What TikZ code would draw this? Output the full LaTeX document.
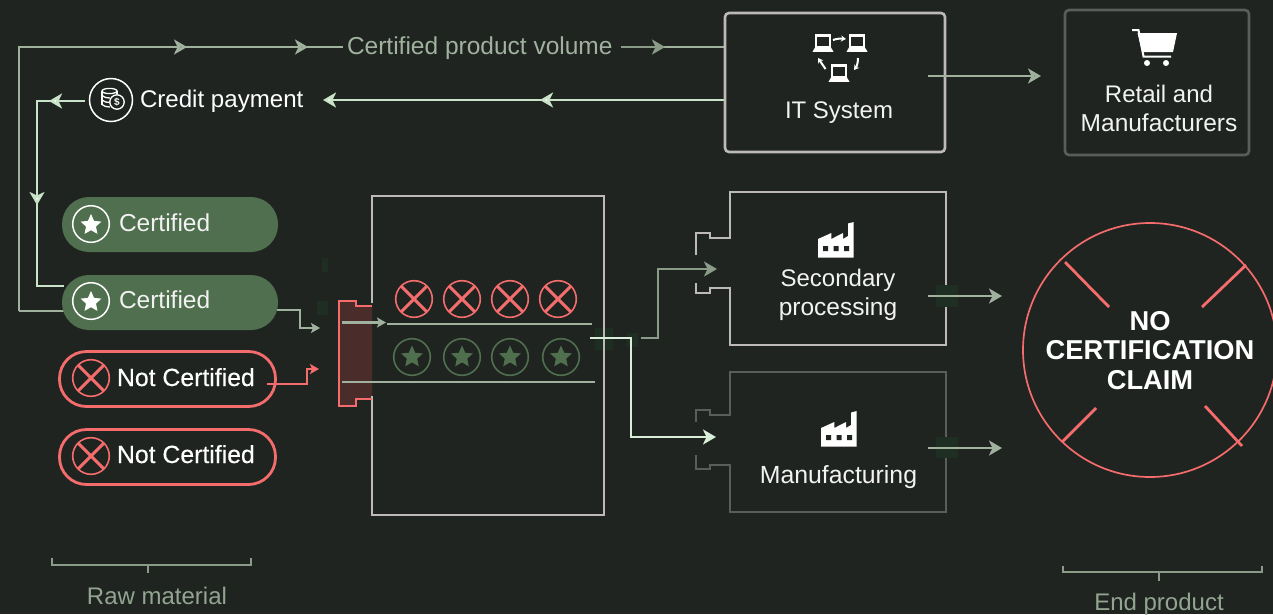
\documentclass[tikz,border=0pt]{standalone}
\usepackage{fontspec}
\setmainfont{Liberation Sans}
\newfontfamily\medfont[FakeBold=0.3]{Liberation Sans}
\usetikzlibrary{arrows.meta}
\definecolor{bgc}{HTML}{1F2421}
\definecolor{sage}{HTML}{A0B29E}
\definecolor{sagedark}{HTML}{8A9B88}
\definecolor{mint}{HTML}{C8E3C8}
\definecolor{mintlight}{HTML}{D8EED8}
\definecolor{pillgreen}{HTML}{4F6F4E}
\definecolor{redc}{HTML}{F56C6C}
\definecolor{gatefill}{HTML}{4A2C2A}
\definecolor{boxlight}{HTML}{BDB9B9}
\definecolor{boxdark}{HTML}{5A5E5B}
\definecolor{faint}{HTML}{1E2E22}
\definecolor{textsage}{HTML}{93A590}
\definecolor{txt}{HTML}{F2F2F2}
\tikzset{
  bigtip/.tip={Stealth[length=13pt,width=15pt,inset=3.5pt]},
  smalltip/.tip={Stealth[length=9pt,width=10pt,inset=2pt]},
  conn/.style={line width=2.8pt,line join=miter},
  cont/.style={conn,shorten <=-4pt},
  lbl/.style={anchor=base,inner sep=0pt,outer sep=0pt,font=\fontsize{24.5}{29}\selectfont,text=txt},
  lblw/.style={lbl,anchor=base west},
  lblm/.style={lbl,font=\fontsize{24}{29}\selectfont},
  pill/.style={rectangle,rounded corners=27pt,minimum width=216pt,minimum height=55pt,inner sep=0pt},
  pillgood/.style={pill,fill=pillgreen},
  pillbad/.style={pill,draw=redc,line width=2.8pt},
  ringw/.style={draw=white,line width=1.5pt},
  wall/.style={line width=2.6pt,draw=boxlight},
  walldark/.style={line width=2.6pt,draw=boxdark},
  fainted/.style={fill=faint,draw=none},
  brack/.style={line width=1.7pt,draw=sagedark},
  claimtxt/.style={lbl,text=white,font=\bfseries\fontsize{27.3}{32}\selectfont},
  nottxt/.style={lblw,font=\medfont\fontsize{24.8}{29}\selectfont,text=white},
}
\newcommand{\mystar}[4]{\fill[#4,shift={(#1,#2)},scale=#3,line join=round]
  (0,-1)--(.28,-.37)--(.951,-.309)--(.45,.14)--(.588,.809)--(0,.47)--(-.588,.809)--(-.45,.14)--(-.951,-.309)--(-.28,-.37)--cycle;}
\newcommand{\mycross}[2]{\draw[redc,line width=1.6pt] (#1,#2) circle[radius=18.3];
  \draw[redc,line width=3pt] (#1-13,#2-13)--(#1+13,#2+13) (#1-13,#2+13)--(#1+13,#2-13);}
\newcommand{\mygood}[2]{\draw[pillgreen,line width=1.6pt] (#1,#2) circle[radius=18.3];\mystar{#1}{#2}{11.5}{pillgreen}}
\newcommand{\mylaptop}[2]{\begin{scope}[shift={(#1,#2)}]
  \draw[white,line width=2.2pt] (-7,-7.5) rectangle (7,4.5);
  \fill[white] (-8,4.5) -- (8,4.5) -- (10.5,8.8) -- (-10.5,8.8) -- cycle;
  \end{scope}}
\newcommand{\myfactory}[2]{\begin{scope}[shift={(#1,#2)}]
  \fill[white] (0,35.7)--(0,17)--(13.3,11)--(13.3,17)--(25,11)--(25,17)--(30,14)--(30,1.5)--(35.7,0)--(35.7,35.7)--cycle;
  \fill[bgc] (5,24) rectangle +(5,5) (15.5,24) rectangle +(5,5) (26,24) rectangle +(5,5);
  \end{scope}}
\begin{document}
\begin{tikzpicture}[x=1pt,y=-1pt]
\useasboundingbox (0,0) rectangle (1273,614);
\fill[bgc] (0,0) rectangle (1273,614);

% faint marks
\fill[fainted] (322,258) rectangle (328,272);
\fill[fainted] (317,301) rectangle (328,315);
\fill[fainted] (595,328) rectangle (613,350);
\fill[fainted] (627,333) rectangle (638,347);

% named points for connectors
\coordinate (tA) at (725,47);  \coordinate (tB) at (665,47);  \coordinate (tC) at (621,47);
\coordinate (tD) at (343,47);  \coordinate (tE) at (308,47);  \coordinate (tF) at (187,47);
\coordinate (tG) at (19,47);   \coordinate (tH) at (19,311);  \coordinate (tI) at (64,311);
\coordinate (cA) at (725,100); \coordinate (cB) at (540,100); \coordinate (cC) at (323,100);
\coordinate (cD) at (85,101);  \coordinate (cE) at (49,101);  \coordinate (cF) at (37,101);
\coordinate (cG) at (37,205);  \coordinate (cH) at (37,286);  \coordinate (cI) at (64,286);
\coordinate (pA) at (277,310); \coordinate (pB) at (300,310); \coordinate (pC) at (300,328); \coordinate (pD) at (320,328);
\coordinate (rA) at (267,384); \coordinate (rB) at (307,384); \coordinate (rC) at (307,369); \coordinate (rD) at (319,369);
\coordinate (lA) at (342,322.5); \coordinate (lB) at (386,322.5); \coordinate (lC) at (387,324); \coordinate (lD) at (592,324);
\coordinate (mA) at (342,382); \coordinate (mB) at (595,382);
\coordinate (oA) at (641,338); \coordinate (oB) at (658,338); \coordinate (oC) at (658,269); \coordinate (oD) at (717,269);
\coordinate (qA) at (590,338); \coordinate (qB) at (631,338); \coordinate (qC) at (631,437); \coordinate (qD) at (716,437);
\coordinate (iA) at (928,76);  \coordinate (iB) at (1041,76);
\coordinate (sA) at (928,296); \coordinate (sB) at (1002,296);
\coordinate (uA) at (928,448); \coordinate (uB) at (1002,448);

% top flow
\draw[cont,sage] (tB) -- (tA);
\draw[conn,sagedark,-{bigtip[fill=sagedark]}] (tC) -- (tB);
\draw[conn,sage] (tI) -- (tH);
\draw[conn,sage,-{bigtip[fill=sagedark]}] (tH) -- (tG) -- (tF);
\draw[cont,sage,-{bigtip[fill=sagedark]}] (tF) -- (tE);
\draw[cont,sage] (tE) -- (tD);
% credit flow
\draw[conn,mint,-{bigtip[fill=white]}] (cA) -- (cB);
\draw[cont,mint,-{bigtip[fill=white]}] (cB) -- (cC);
\draw[conn,mint,-{bigtip[fill=white]}] (cD) -- (cE);
\draw[cont,mint,-{bigtip[fill=white]}] (cE) -- (cF) -- (cG);
\draw[cont,mint] (cG) -- (cH) -- (cI);

% raw material pills
\node[pillgood] (certA) at (170,224.5) {};
\node[pillgood] (certB) at (170,302.5) {};
\node[pillbad] (notA) at (167.5,379) {};
\node[pillbad] (notB) at (167.5,457) {};
\draw[ringw] (91,224) circle[radius=18.3];
\mystar{91}{225}{11}{white}
\draw[ringw] (91,301) circle[radius=18.3];
\mystar{91}{302}{11}{white}
\mycross{91}{378}
\mycross{91}{456}
\node[lblw] (tc1) at (119,231) {Certified};
\node[lblw] (tc2) at (119,308) {Certified};
\node[nottxt] (tn1) at (117,386) {Not Certified};
\node[nottxt] (tn2) at (117,463) {Not Certified};
\draw[conn,sage,-{smalltip[fill=sage]}] (pA) -- (pB) -- (pC) -- (pD);
\draw[conn,redc,-{smalltip[fill=redc]}] (rA) -- (rB) -- (rC) -- (rD);

% credit icon
\draw[ringw] (111,100) circle[radius=21.5];
\begin{scope}[white,line width=1.3pt]
  \draw (109.5,91) ellipse[x radius=7.5,y radius=2.6];
  \draw (102,91) -- (102,104.5) (117,91) -- (117,94);
  \draw (102,95.5) .. controls (104,97.5) and (107,98) .. (110,98);
  \draw (102,100) .. controls (104,102) and (107,102.5) .. (110,102.5);
  \draw (102,104.5) .. controls (104,106.5) and (107,107) .. (110,107);
  \draw[fill=bgc] (117,102) circle[radius=7.2];
\end{scope}
\node[anchor=center,inner sep=0pt,text=white,font=\bfseries\fontsize{10}{10}\selectfont] (dollar) at (117,102) {\$};
\node[lblw,text=white,font=\fontsize{24.1}{29}\selectfont] (tcp) at (140,107) {Credit payment};
\node[lblw,text=sage] (tcv) at (347,54) {Certified product volume};

% big box with gate
\fill[gatefill] (339,301)--(356,301)--(356,306)--(372,306)--(372,399)--(356,399)--(356,406)--(339,406)--cycle;
\draw[wall] (372,303)--(372,196)--(604,196)--(604,515)--(372,515)--(372,396);
\draw[line width=2.8pt,redc] (372,306)--(356,306)--(356,301)--(339,301)--(339,406)--(356,406)--(356,399)--(372,399);
\draw[conn,sage,-{smalltip[fill=sage]}] (lA) -- (lB);
\draw[conn,sage] (lC) -- (lD);
\draw[conn,sage] (mA) -- (mB);
\mycross{414}{299}\mycross{462}{299}\mycross{510}{299}\mycross{558}{299}
\mygood{412}{357}\mygood{462}{357}\mygood{510}{357}\mygood{561}{357}

% IT system
\node[rectangle,draw=boxlight,line width=2.6pt,rounded corners=4pt,minimum width=220pt,minimum height=139pt,inner sep=0pt] (it) at (835,82.5) {};
\mylaptop{823}{43}\mylaptop{857}{43}\mylaptop{839}{73}
\draw[white,line width=2pt,-{Stealth[length=5pt,width=6pt]}] (833,40) .. controls (837,38.5) and (841,38.5) .. (846,39);
\draw[white,line width=2pt,-{Stealth[length=5pt,width=6pt]}] (858,58) .. controls (858,62) and (857,66) .. (854,70);
\draw[white,line width=2pt,-{Stealth[length=5pt,width=6pt]}] (825.5,69) -- (818,58);
\node[lblm] (tit) at (839,118) {IT System};
\draw[conn,sage,-{bigtip[fill=sagedark]}] (iA) -- (iB);

% retail
\node[rectangle,draw=boxdark,line width=2.6pt,rounded corners=4pt,minimum width=184pt,minimum height=145pt,inner sep=0pt] (retail) at (1157,82.5) {};
\draw[white,line width=2pt] (1132,30) -- (1138.5,30) -- (1143.5,56.5) -- (1171,56.5);
\fill[white] (1137.5,33) -- (1177,33) -- (1173,52) -- (1142,52) -- cycle;
\fill[white] (1147,63) circle[radius=3] (1166,63) circle[radius=3];
\node[lblm] (tr1) at (1159,102) {Retail and};
\node[lbl] (tr2) at (1159,131) {Manufacturers};

% secondary processing
\draw[wall] (696,255)--(696,233)--(710,233)--(710,238)--(730,238)--(730,192)--(946,192)--(946,345)--(730,345)--(730,288)--(710,288)--(710,293)--(696,293)--(696,283);
\fill[fainted] (936,285) rectangle (958,307);
\myfactory{818}{222}
\node[lblm] (ts1) at (838,286) {Secondary};
\node[lbl] (ts2) at (838,315) {processing};
\draw[conn,sage,-{bigtip[fill=sage]}] (sA) -- (sB);

% manufacturing
\draw[walldark] (696,422)--(696,410)--(710,410)--(710,415)--(730,415)--(730,372)--(946,372)--(946,512)--(730,512)--(730,465)--(710,465)--(710,469)--(696,469)--(696,455);
\fill[fainted] (936,437) rectangle (958,458);
\myfactory{821}{411}
\node[lbl,font=\fontsize{24.8}{29}\selectfont] (tm1) at (838.5,483) {Manufacturing};
\draw[conn,sage,-{bigtip[fill=sage]}] (uA) -- (uB);

% outputs of the big box
\draw[conn,sagedark,-{bigtip[fill=sagedark]}] (oA) -- (oB) -- (oC) -- (oD);
\draw[conn,mintlight,-{bigtip[fill=mintlight]}] (qA) -- (qB) -- (qC) -- (qD);

% end product circle
\node[circle,draw=redc,line width=1.7pt,minimum size=254pt,inner sep=0pt] (claim) at (1150,350) {};
\draw[redc,line width=2.8pt] (1065,262)--(1109,307) (1246,265)--(1202,307) (1062,442)--(1096,408) (1242,446)--(1205,406);
\node[claimtxt] (tn3) at (1150,330) {NO};
\node[claimtxt] (tn4) at (1150,359) {CERTIFICATION};
\node[claimtxt] (tn5) at (1150,389) {CLAIM};

% brackets
\draw[brack] (52,558)--(52,565)--(251,565)--(251,558) (148,565)--(148,573);
\node[lblm,text=textsage] (traw) at (157,604) {Raw material};
\draw[brack] (1063,566)--(1063,572)--(1262,572)--(1262,566) (1159,572)--(1159,581);
\node[lblm,text=textsage] (tend) at (1159,610) {End product};
\end{tikzpicture}
\end{document}
